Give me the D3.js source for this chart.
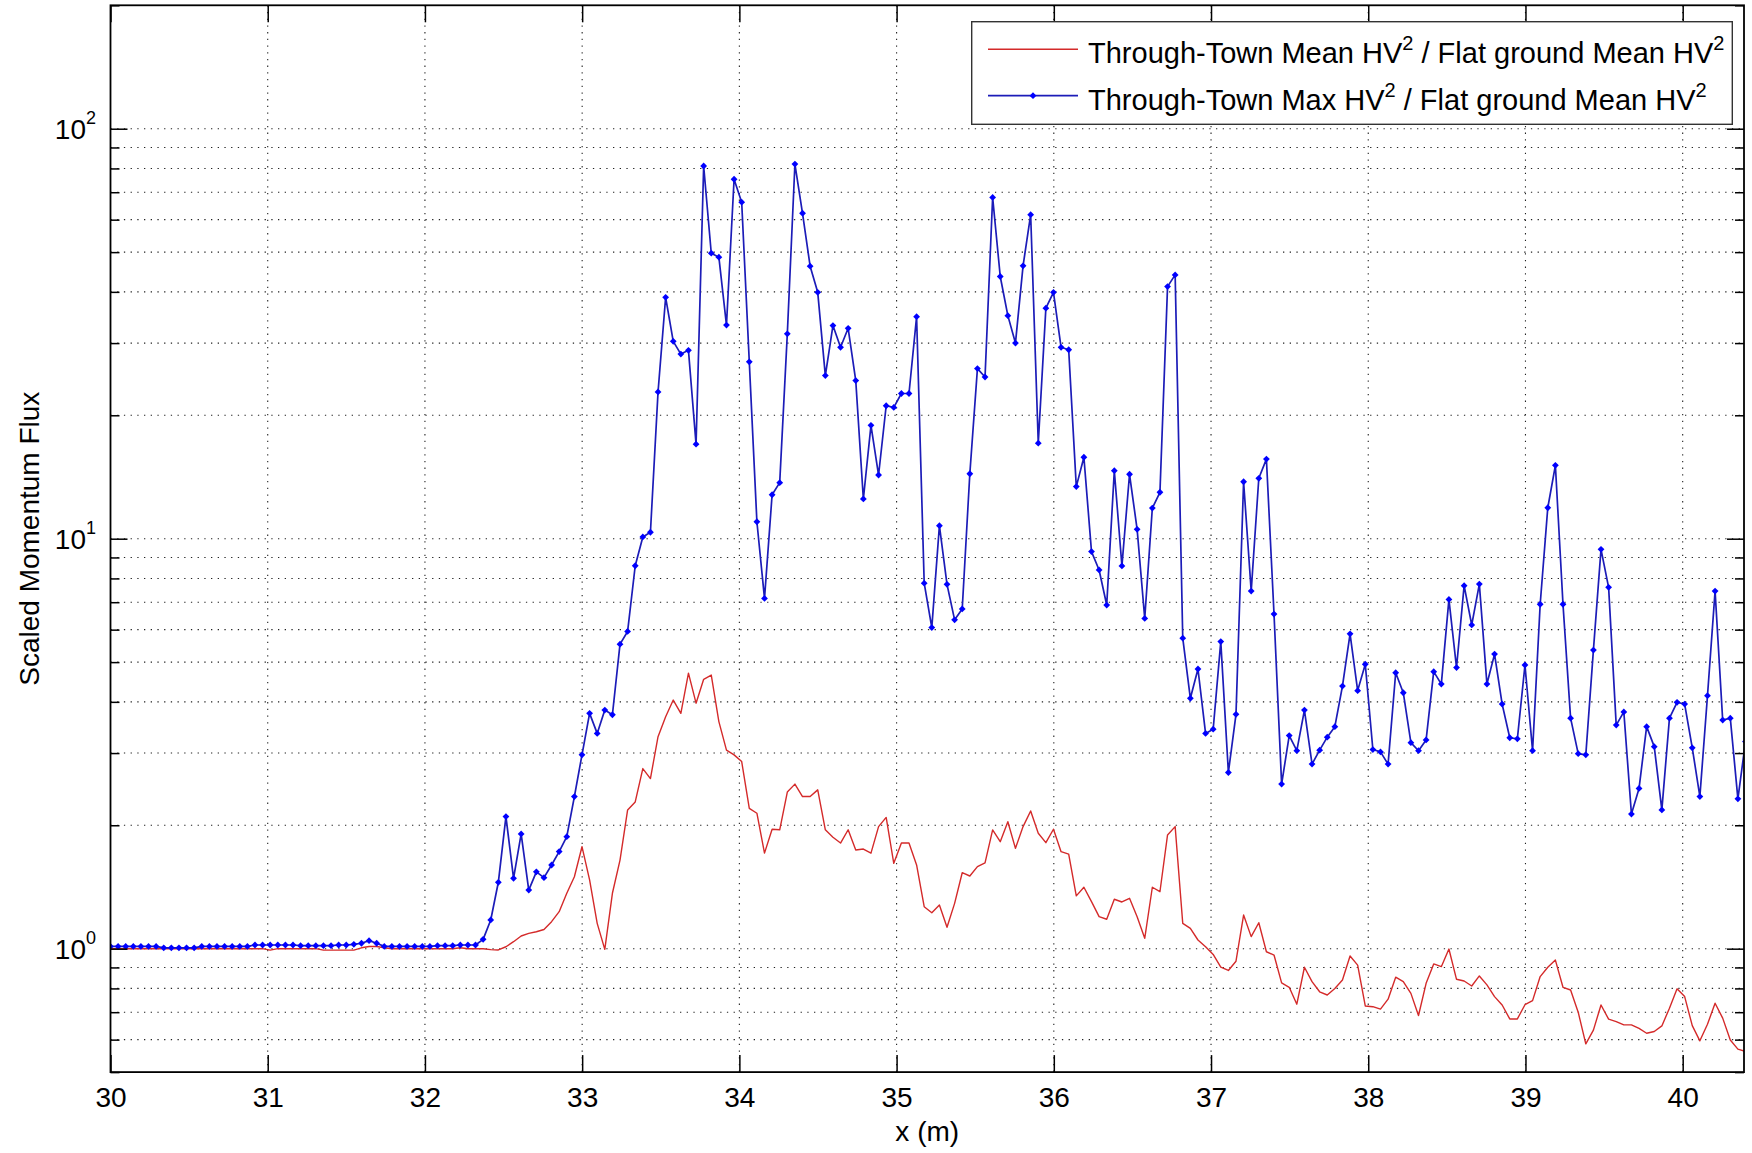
<!DOCTYPE html>
<html>
<head>
<meta charset="utf-8">
<script src="https://cdn.jsdelivr.net/npm/d3@7"></script>
<style>
  body { margin: 0; background: #fff; }
  svg { display: block; }
  text { font-family: "Liberation Sans", Arial, Helvetica, sans-serif; fill: #000; white-space: pre; }
</style>
</head>
<body>
<svg id="chart" width="1752" height="1153"></svg>
<script>
// Gauge positions along the flume: first gauge at 30 m, evenly spaced.
const gaugeStart = 30;
const gaugeSpacing = 0.04837;

// Through-Town Mean HV^2 / Flat ground Mean HV^2
const meanRatio = [
  1.0,1.0,1.0,1.0,1.0,1.0,1.0,1.0,1.0,1.0,
  1.0,1.0,1.0,1.0,1.0,1.0,1.0,1.0,1.0,1.0,
  1.0,0.992,1.0,1.0,1.0,1.0,1.0,1.0,0.992,0.992,
  0.992,0.992,0.992,1.005,1.012,1.012,1.005,1.0,1.0,1.0,
  1.0,1.0,1.0,1.0,1.0,1.0,1.005,1.0,1.0,1.0,
  0.995,0.993,1.011,1.04,1.074,1.09,1.10,1.114,1.164,1.231,
  1.365,1.498,1.773,1.471,1.153,0.996,1.365,1.645,2.18,2.28,
  2.75,2.60,3.29,3.68,4.04,3.75,4.70,3.97,4.54,4.65,
  3.58,3.05,2.97,2.86,2.20,2.14,1.71,1.956,1.95,2.41,
  2.52,2.35,2.35,2.44,1.95,1.87,1.81,1.95,1.74,1.75,
  1.71,1.985,2.09,1.615,1.81,1.81,1.60,1.266,1.224,1.278,
  1.128,1.29,1.532,1.504,1.585,1.62,1.948,1.824,2.04,1.757,
  1.985,2.167,1.912,1.814,1.956,1.724,1.70,1.345,1.412,1.302,
  1.197,1.18,1.32,1.30,1.327,1.197,1.06,1.412,1.377,1.894,
  1.985,1.153,1.121,1.05,1.011,0.968,0.902,0.885,0.932,1.208,
  1.07,1.157,0.983,0.965,0.825,0.805,0.732,0.901,0.831,0.785,
  0.771,0.80,0.839,0.96,0.912,0.725,0.722,0.712,0.753,0.852,
  0.831,0.778,0.687,0.823,0.918,0.904,0.998,0.842,0.834,0.811,
  0.858,0.816,0.764,0.729,0.674,0.674,0.73,0.747,0.855,0.901,
  0.938,0.805,0.793,0.70,0.586,0.633,0.729,0.673,0.664,0.652,
  0.652,0.639,0.622,0.628,0.648,0.716,0.798,0.764,0.649,0.596,
  0.654,0.736,0.677,0.599,0.569,0.561
];

// Through-Town Max HV^2 / Flat ground Mean HV^2
const maxRatio = [
  1.013,1.013,1.013,1.013,1.013,1.013,1.013,1.005,1.005,1.005,
  1.005,1.005,1.013,1.013,1.013,1.013,1.013,1.013,1.013,1.021,
  1.021,1.021,1.021,1.021,1.021,1.017,1.017,1.017,1.017,1.017,
  1.021,1.021,1.025,1.031,1.046,1.031,1.013,1.013,1.013,1.013,
  1.013,1.013,1.013,1.017,1.017,1.017,1.021,1.021,1.021,1.054,
  1.175,1.452,2.10,1.485,1.905,1.39,1.54,1.49,1.60,1.725,
  1.876,2.35,2.97,3.75,3.35,3.82,3.72,5.53,5.94,8.59,
  10.1,10.37,22.8,38.8,30.3,28.2,28.8,17.0,81.1,49.7,
  48.6,33.2,75.3,66.2,27.0,11.0,7.15,12.8,13.7,31.6,
  82.0,62.2,46.2,39.9,25.0,33.1,29.3,32.6,24.3,12.5,
  18.9,14.3,21.1,20.9,22.6,22.6,34.8,7.79,6.07,10.76,
  7.74,6.34,6.74,14.4,26.0,24.8,68.0,43.6,35.0,30.0,
  46.3,61.7,17.1,36.5,39.9,29.3,28.9,13.4,15.8,9.30,
  8.39,6.89,14.65,8.58,14.36,10.54,6.39,11.88,12.98,41.2,
  44.0,5.72,4.08,4.81,3.35,3.43,5.61,2.69,3.73,13.77,
  7.45,14.04,15.64,6.55,2.52,3.31,3.04,3.82,2.82,3.05,
  3.28,3.48,4.37,5.86,4.26,4.94,3.06,3.02,2.82,4.71,
  4.21,3.18,3.04,3.23,4.74,4.42,7.11,4.85,7.68,6.16,
  7.75,4.42,5.23,3.95,3.27,3.25,4.92,3.04,6.92,11.9,
  15.1,6.92,3.65,2.99,2.97,5.35,9.42,7.61,3.51,3.78,
  2.13,2.46,3.48,3.11,2.18,3.65,3.99,3.95,3.09,2.35,
  4.14,7.45,3.61,3.65,2.32,3.20
];

const xDomain = [30, 40.39];
const yDomain = [0.5, 200];
const xTicks = [30, 31, 32, 33, 34, 35, 36, 37, 38, 39, 40];
const yMajorTicks = [1, 10, 100];
const yMajorExponents = ["0", "1", "2"];
const yMinorTicks = [0.5, 0.6, 0.7, 0.8, 0.9, 2, 3, 4, 5, 6, 7, 8, 9,
                     20, 30, 40, 50, 60, 70, 80, 90, 200];
const seriesColors = { mean: "#d42a2a", max: "#1c1cb8", marker: "#0000ff" };
const legendLabels = [
  ["Through-Town Mean HV", "2", " / Flat ground Mean HV", "2"],
  ["Through-Town Max HV", "2", " / Flat ground Mean HV", "2"]
];
const xLabel = "x (m)";
const yLabel = "Scaled Momentum Flux";

const W = 1752, H = 1153;
const plot = { left: 110.5, right: 1744, top: 5.3, bottom: 1072.1 };

const svg = d3.select("#chart");
svg.append("rect").attr("width", W).attr("height", H).attr("fill", "#fff");

const x = d3.scaleLinear().domain(xDomain).range([plot.left, plot.right]);
const y = d3.scaleLog().domain(yDomain).range([plot.bottom, plot.top]);

// dotted grid
const grid = svg.append("g")
  .attr("stroke", "#222")
  .attr("stroke-width", 1.1)
  .attr("stroke-dasharray", "1.3 5.4");
grid.selectAll("line.gx")
  .data(xTicks.filter(t => t > xDomain[0] && t < xDomain[1]))
  .join("line").attr("class", "gx")
  .attr("x1", d => x(d)).attr("x2", d => x(d))
  .attr("y1", plot.top).attr("y2", plot.bottom);
grid.selectAll("line.gy")
  .data(yMajorTicks.concat(yMinorTicks).filter(t => t > yDomain[0] && t < yDomain[1]))
  .join("line").attr("class", "gy")
  .attr("x1", plot.left).attr("x2", plot.right)
  .attr("y1", d => y(d)).attr("y2", d => y(d));

// data, clipped to the axes box
svg.append("clipPath").attr("id", "plotClip")
  .append("rect")
  .attr("x", plot.left).attr("y", plot.top)
  .attr("width", plot.right - plot.left).attr("height", plot.bottom - plot.top);

const xs = meanRatio.map((_, i) => gaugeStart + i * gaugeSpacing);
const dataG = svg.append("g").attr("clip-path", "url(#plotClip)");
const line = d3.line().x((d, i) => x(xs[i])).y(d => y(d));

dataG.append("path").datum(meanRatio)
  .attr("fill", "none").attr("stroke", seriesColors.mean)
  .attr("stroke-width", 1.4).attr("stroke-linejoin", "round")
  .attr("d", line);

dataG.append("path").datum(maxRatio)
  .attr("fill", "none").attr("stroke", seriesColors.max)
  .attr("stroke-width", 1.7).attr("stroke-linejoin", "round")
  .attr("d", line);

// point markers: small filled diamonds
const markerPath = "M0,-3.4L3.4,0L0,3.4L-3.4,0Z";
dataG.selectAll("path.pt").data(maxRatio).join("path").attr("class", "pt")
  .attr("transform", (d, i) => `translate(${x(xs[i])},${y(d)})`)
  .attr("d", markerPath).attr("fill", seriesColors.marker);

// ticks (pointing inward on all four sides)
function styleAxis(g) {
  g.select(".domain").remove();
  g.selectAll(".tick line").attr("stroke", "#000").attr("stroke-width", 1.5);
  g.attr("font-family", null).attr("font-size", null);
}
const noLabel = () => "";

svg.append("g").attr("transform", `translate(0,${plot.bottom})`)
  .call(d3.axisBottom(x).tickValues(xTicks).tickSizeInner(-17).tickSizeOuter(0)
    .tickPadding(15).tickFormat(d3.format("d")))
  .call(styleAxis)
  .selectAll("text").attr("font-size", 28);

svg.append("g").attr("transform", `translate(0,${plot.top})`)
  .call(d3.axisTop(x).tickValues(xTicks).tickSizeInner(-17).tickSizeOuter(0).tickFormat(noLabel))
  .call(styleAxis);

svg.append("g").attr("transform", `translate(${plot.left},0)`)
  .call(d3.axisLeft(y).tickValues(yMajorTicks).tickSizeInner(-17).tickSizeOuter(0).tickFormat(noLabel))
  .call(styleAxis);
svg.append("g").attr("transform", `translate(${plot.left},0)`)
  .call(d3.axisLeft(y).tickValues(yMinorTicks).tickSizeInner(-9).tickSizeOuter(0).tickFormat(noLabel))
  .call(styleAxis);
svg.append("g").attr("transform", `translate(${plot.right},0)`)
  .call(d3.axisRight(y).tickValues(yMajorTicks).tickSizeInner(-17).tickSizeOuter(0).tickFormat(noLabel))
  .call(styleAxis);
svg.append("g").attr("transform", `translate(${plot.right},0)`)
  .call(d3.axisRight(y).tickValues(yMinorTicks).tickSizeInner(-9).tickSizeOuter(0).tickFormat(noLabel))
  .call(styleAxis);

// power-of-ten labels on the log axis
const yLab = svg.append("g").selectAll("text").data(yMajorTicks).join("text")
  .attr("x", 96).attr("y", d => y(d) + 10.5)
  .attr("text-anchor", "end").attr("font-size", 28);
yLab.append("tspan").text("10");
yLab.append("tspan").attr("dy", -15).attr("font-size", 18)
  .text((d, i) => yMajorExponents[i]);

// axes box
svg.append("rect")
  .attr("x", plot.left).attr("y", plot.top)
  .attr("width", plot.right - plot.left).attr("height", plot.bottom - plot.top)
  .attr("fill", "none").attr("stroke", "#000").attr("stroke-width", 1.8);

// axis titles
svg.append("text").attr("x", (plot.left + plot.right) / 2).attr("y", 1141)
  .attr("text-anchor", "middle").attr("font-size", 28).text(xLabel);
svg.append("text")
  .attr("transform", `translate(38.5,${(plot.top + plot.bottom) / 2}) rotate(-90)`)
  .attr("text-anchor", "middle").attr("font-size", 28).text(yLabel);

// legend
const lg = svg.append("g");
lg.append("rect").attr("x", 971.7).attr("y", 21.7).attr("width", 760.6).attr("height", 102.6)
  .attr("fill", "#fff").attr("stroke", "#333").attr("stroke-width", 1.4);
const legendRows = [
  { color: seriesColors.mean, ly: 49.3, ty: 62.5, marker: false },
  { color: seriesColors.max, ly: 95.7, ty: 109.5, marker: true }
];
legendRows.forEach((row, k) => {
  lg.append("line").attr("x1", 988).attr("x2", 1078).attr("y1", row.ly).attr("y2", row.ly)
    .attr("stroke", row.color).attr("stroke-width", k === 0 ? 1.4 : 1.7);
  if (row.marker) {
    lg.append("path").attr("transform", `translate(1033,${row.ly})`)
      .attr("d", markerPath).attr("fill", seriesColors.marker);
  }
  const t = lg.append("text").attr("x", 1088).attr("y", row.ty).attr("font-size", 29);
  legendLabels[k].forEach((part, j) => {
    const sp = t.append("tspan").text(part);
    if (j % 2 === 1) sp.attr("dy", -13).attr("font-size", 20);
    else if (j > 0) sp.attr("dy", 13);
  });
});
</script>
</body>
</html>
